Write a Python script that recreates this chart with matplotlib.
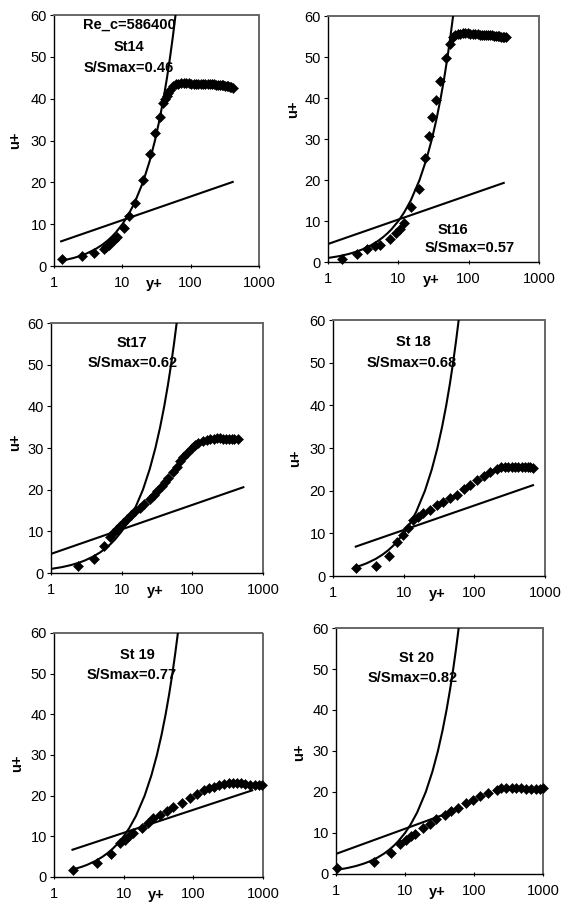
import numpy as np
import matplotlib
matplotlib.use('Agg')
import matplotlib.pyplot as plt

plt.rcParams['font.family'] = ['Liberation Sans', 'DejaVu Sans']

st14_y = [1.3, 2.6, 3.9, 5.3, 5.8, 6.3, 6.9, 7.5, 8.3, 10.6,
          12.6, 15.3, 20.3, 25.4, 30.1, 35.5, 39.8, 42, 44.5, 47,
          50, 55, 60, 66, 72, 79, 86, 94, 102, 111,
          120, 130, 141, 152, 164, 177, 190, 204, 219, 234,
          250, 266, 283, 300, 318, 336, 355, 374, 394, 415]
st14_u = [1.7, 2.5, 3.0, 4.1, 4.6, 5.1, 5.7, 6.3, 7.0, 9.1,
          11.9, 15.1, 20.5, 26.7, 31.7, 35.7, 38.9, 39.9, 40.6, 41.4,
          42.2, 43.0, 43.4, 43.6, 43.7, 43.7, 43.7, 43.7, 43.6, 43.6,
          43.6, 43.6, 43.5, 43.5, 43.5, 43.5, 43.4, 43.4, 43.4, 43.3,
          43.3, 43.3, 43.2, 43.2, 43.1, 43.0, 43.0, 42.9, 42.8, 42.6]

st16_y = [1.6, 2.6, 3.6, 4.6, 5.4, 7.5, 9.4, 10.7, 11.9, 15.3,
          19.7, 23.7, 27.3, 30.4, 34.0, 38.7, 48.1, 54.9, 59, 64,
          70, 76, 83, 90, 98, 106, 115, 124, 134, 144,
          155, 166, 178, 190, 203, 216, 230, 244, 259, 274,
          290, 306, 323, 340]
st16_u = [0.7, 1.9, 3.3, 3.8, 4.1, 5.5, 7.2, 8.1, 9.5, 13.4,
          17.7, 25.4, 30.7, 35.4, 39.5, 44.1, 49.7, 53.3, 54.8, 55.4,
          55.6, 55.7, 55.8, 55.8, 55.8, 55.7, 55.7, 55.6, 55.6, 55.5,
          55.5, 55.5, 55.4, 55.4, 55.3, 55.3, 55.2, 55.2, 55.1, 55.1,
          55.0, 55.0, 54.9, 55.0]

st17_y = [2.4, 4.0, 5.6, 6.8, 7.6, 8.5, 9.5, 10.5, 11.8, 13.5,
          15.4, 18.1, 21, 25.2, 28.6, 32, 36.8, 41, 45.6, 52.6,
          60, 66, 72.9, 83, 97.6, 110, 121, 140, 160, 180,
          200, 220, 245, 270, 300, 330, 360, 395, 440]
st17_u = [1.8, 3.4, 6.5, 8.6, 9.6, 10.5, 11.2, 11.9, 12.9, 13.9,
          14.9, 15.6, 16.5, 17.7, 18.8, 19.6, 20.8, 21.9, 22.9, 24.3,
          25.5, 26.8, 27.8, 28.9, 30.1, 30.7, 31.1, 31.6, 31.9, 32.1,
          32.2, 32.3, 32.3, 32.2, 32.2, 32.1, 32.1, 32.1, 32.2]

st18_y = [2.1, 4.1, 6.2, 8.1, 9.9, 11.6, 13.7, 16.2, 19, 23.7,
          29.4, 36.6, 45.6, 56.7, 70.5, 87.7, 109, 136, 169, 210,
          240, 270, 300, 340, 380, 420, 470, 520, 570, 620,
          680]
st18_u = [1.8, 2.4, 4.7, 8.0, 9.6, 11.2, 13.1, 13.9, 14.7, 15.5,
          16.6, 17.4, 18.2, 19.1, 20.3, 21.3, 22.5, 23.4, 24.5, 25.2,
          25.5, 25.6, 25.6, 25.6, 25.6, 25.5, 25.5, 25.5, 25.5, 25.5,
          25.4]

st19_y = [1.9, 4.2, 6.5, 8.8, 10.4, 12.3, 13.7, 18.1, 22.7, 26.6,
          33, 41.5, 51.5, 68, 90, 112, 140, 170, 195, 230,
          272, 320, 377, 430, 480, 560, 655, 760, 870, 970]
st19_u = [1.8, 3.45, 5.75, 8.4, 9.2, 10.3, 10.8, 12.1, 13.3, 14.4,
          15.2, 16.3, 17.3, 18.3, 19.3, 20.3, 21.4, 21.9, 22.2, 22.5,
          22.8, 23.0, 23.2, 23.1, 23.0, 22.8, 22.6, 22.6, 22.7, 22.6]

st20_y = [1.05, 3.6, 6.2, 8.6, 10.5, 12.4, 13.9, 18.4, 22.9, 28.6,
          37.8, 47, 58.8, 77.6, 97, 121, 160, 212, 250, 295,
          350, 410, 480, 570, 680, 800, 900, 1000]
st20_u = [1.46, 2.9, 5.0, 7.2, 8.4, 9.2, 9.8, 11.2, 12.3, 13.3,
          14.5, 15.3, 16.1, 17.2, 18.1, 19.0, 19.8, 20.6, 20.9, 21.0,
          21.0, 21.0, 20.9, 20.7, 20.7, 20.7, 20.8, 21.0]

# viscous sublayer curve (u+ = y+)
visc_y = [1, 1.3, 1.5, 1.9, 2, 2.5, 3, 4, 5, 6, 7, 8, 10, 12, 15,
          20, 25, 30, 35, 40, 45, 50, 55, 60, 65]
visc_u = [1, 1.3, 1.5, 1.9, 2, 2.5, 3, 4, 5, 6, 7, 8, 10, 12, 15,
          20, 25, 30, 35, 40, 45, 50, 55, 60, 65]
visc_start = [1.3, 1, 1, 2, 1.9, 1]

# log-law line end points
log_y = [(1.27, 412), (1, 315), (1, 527), (2.1, 676), (1.84, 700), (1, 60)]
log_u = [(5.9, 20.1), (4.4, 19.3), (4.6, 20.6), (6.9, 21.3), (6.7, 21.3), (4.9, 15.8)]

labels = [["Re_c=586400", "St14", "S/Smax=0.46"],
          ["St16", "S/Smax=0.57"],
          ["St17", "S/Smax=0.62"],
          ["St 18", "S/Smax=0.68"],
          ["St 19", "S/Smax=0.77"],
          ["St 20", "S/Smax=0.82"]]

xticks = [1, 10, 100, 1000]
xticklabels = ['1', '10', '100', '1000']
yticks = [0, 10, 20, 30, 40, 50, 60]

profiles = [(st14_y, st14_u), (st16_y, st16_u), (st17_y, st17_u),
            (st18_y, st18_u), (st19_y, st19_u), (st20_y, st20_u)]

# ---------------- layout ----------------
rects = [[0.0963, 0.7067, 0.3654, 0.2767],
         [0.5847, 0.7111, 0.3761, 0.2712],
         [0.0909, 0.3682, 0.3779, 0.2756],
         [0.5936, 0.3649, 0.3779, 0.2822],
         [0.0963, 0.0331, 0.3725, 0.2690],
         [0.5989, 0.0364, 0.3690, 0.2712]]
text_pos = [[(0.366, 0.96), (0.366, 0.873), (0.366, 0.789)],
            [(0.59, 0.13), (0.67, 0.057)],
            [(0.384, 0.92), (0.384, 0.84)],
            [(0.377, 0.914), (0.373, 0.832)],
            [(0.397, 0.91), (0.373, 0.828)],
            [(0.39, 0.878), (0.37, 0.797)]]
ulabel_pos = [(-0.19, 0.50), (-0.166, 0.62), (-0.17, 0.524),
              (-0.18, 0.46), (-0.177, 0.467), (-0.18, 0.496)]

fig = plt.figure(figsize=(5.61, 9.07), dpi=100)

for i in range(6):
    ax = fig.add_axes(rects[i])
    py, pu = profiles[i]

    vy = np.array(visc_y)
    vu = np.array(visc_u)
    m = vy >= visc_start[i]
    ax.plot(np.r_[visc_start[i], vy[m]], np.r_[visc_start[i], vu[m]],
            color='black', lw=1.5, zorder=3)
    ax.plot(log_y[i], log_u[i], color='black', lw=1.5, zorder=3)
    ax.plot(py, pu, linestyle='none', marker='D', ms=5.5, color='black',
            mew=0.4, zorder=4, clip_on=False)

    ax.set_xscale('log')
    ax.set_xlim(1, 1000)
    ax.set_ylim(0, 60)
    ax.set_xticks(xticks)
    ax.set_xticklabels(xticklabels)
    ax.minorticks_off()
    ax.set_yticks(yticks)
    ax.tick_params(axis='y', direction='out', length=3, width=0.8,
                   labelsize=10.5, pad=2)
    ax.tick_params(axis='x', direction='inout', length=3, width=0.8,
                   labelsize=10.5, pad=6)

    for s in ['top', 'right']:
        ax.spines[s].set_color('#666666')
        ax.spines[s].set_linestyle((0, (1, 1)))
        ax.spines[s].set_linewidth(1.4)
    ax.spines['left'].set_linewidth(1.0)
    ax.spines['bottom'].set_linewidth(1.0)

    for txt, (tx, ty) in zip(labels[i], text_pos[i]):
        ax.text(tx, ty, txt, transform=ax.transAxes, ha='center',
                va='center', fontsize=10.5, fontweight='bold', zorder=2)

    ux, uy = ulabel_pos[i]
    ax.text(ux, uy, 'u+', transform=ax.transAxes, rotation=90,
            ha='center', va='center', fontsize=10.5, fontweight='bold')
    ax.text(0.49, -0.072, 'y+', transform=ax.transAxes, ha='center',
            va='center', fontsize=10.5, fontweight='bold')

fig.savefig('out.png', dpi=100)
